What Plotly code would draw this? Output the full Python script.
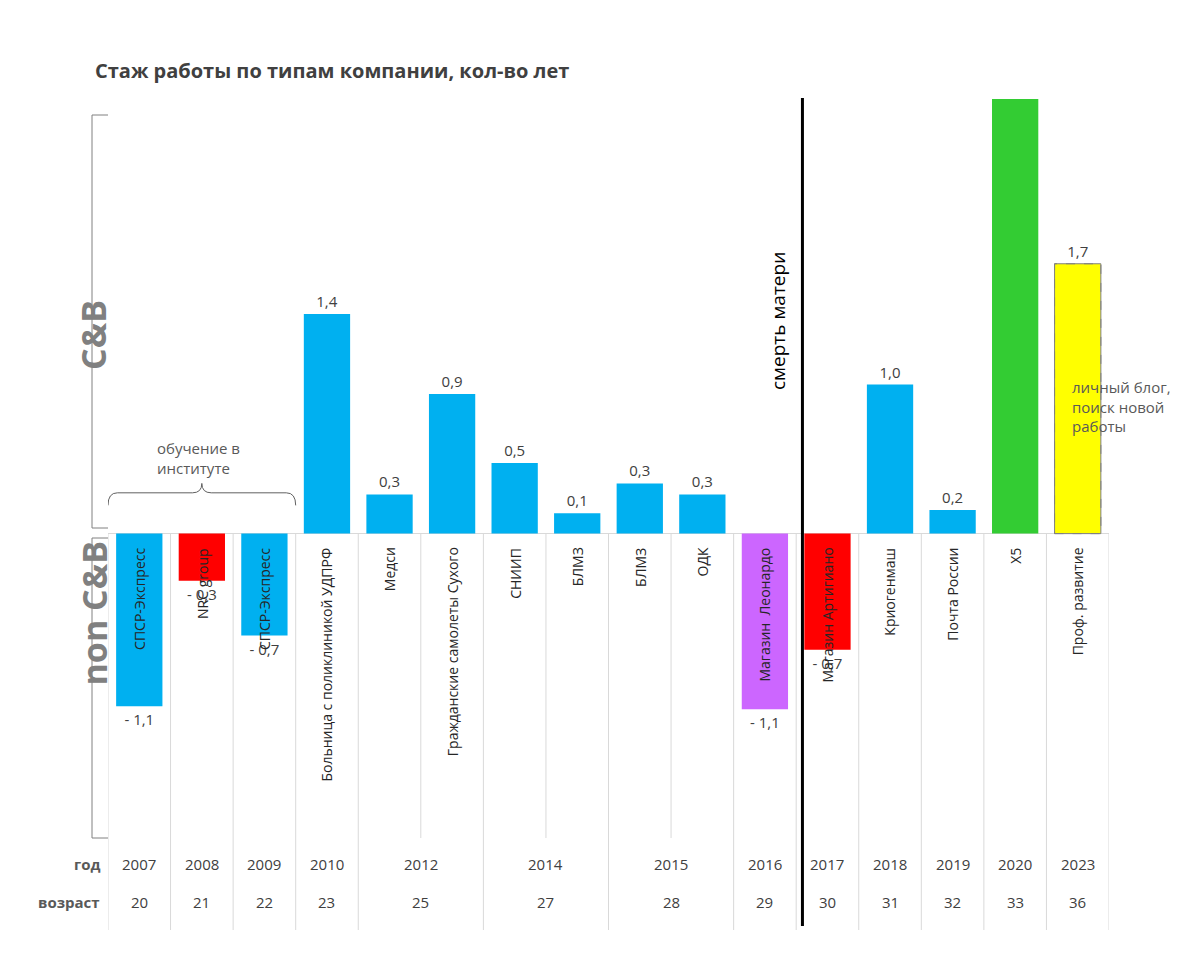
import plotly.graph_objects as go

names = ["СПСР-Экспресс", "NRC group", "СПСР-Экспресс", "Больница с поликлиникой УДПРФ", "Медси",
         "Гражданские самолеты Сухого", "СНИИП", "БЛМЗ", "БЛМЗ", "ОДК", "Магазин  Леонардо",
         "Магазин Артигиано", "Криогенмаш", "Почта России", "Х5", "Проф. развитие"]
values = [-1.1, -0.3, -0.65, 1.4, 0.25, 0.89, 0.45, 0.13, 0.32, 0.25, -1.12, -0.74, 0.95, 0.15, 2.8, 1.72]
labels = ["- 1,1", "- 0,3", "- 0,7", "1,4", "0,3", "0,9", "0,5", "0,1", "0,3", "0,3", "- 1,1", "- 0,7",
          "1,0", "0,2", "2,8", "1,7"]
colors = ["#00B0F0", "#FF0000", "#00B0F0", "#00B0F0", "#00B0F0", "#00B0F0", "#00B0F0", "#00B0F0",
          "#00B0F0", "#00B0F0", "#CC66FF", "#FF0000", "#00B0F0", "#00B0F0", "#33CC33", "#FFFF00"]
years = ["2007", "2008", "2009", "2010", "2012", "2014", "2015", "2016", "2017", "2018", "2019", "2020", "2023"]
ages = ["20", "21", "22", "23", "25", "27", "28", "29", "30", "31", "32", "33", "36"]
row_pos = [0, 1, 2, 3, 4.5, 6.5, 8.5, 10, 11, 12, 13, 14, 15]

x = list(range(len(values)))
line_colors = ["#808080" if c == "#FFFF00" else c for c in colors]

fig = go.Figure(go.Bar(
    x=x, y=values, width=0.74, marker=dict(color=colors, line=dict(color=line_colors, width=1)),
    text=labels, textposition="outside", cliponaxis=False,
    textfont=dict(size=15, color="#404040", family="Open Sans"),
))
fig.data[0].marker.line.width = [0]*15 + [1]

shapes = []
PAPER = lambda py: (830 - py) / 739.0
# column separators
for k in range(17):
    b = k - 0.5
    if b in (4.5, 6.5, 8.5):
        shapes.append(dict(type="line", xref="x", yref="y", x0=b, x1=b, y0=0, y1=-1.94,
                           line=dict(color="#D9D9D9", width=1)))
    else:
        shapes.append(dict(type="line", xref="x", yref="paper", x0=b, x1=b, y0=PAPER(525), y1=PAPER(922),
                           line=dict(color="#D9D9D9", width=1)))
# dashed border for yellow bar
shapes.append(dict(type="rect", xref="x", yref="y", x0=15 - 0.37, x1=15 + 0.37, y0=0, y1=values[15],
                   line=dict(color="#808080", width=1, dash="dash")))
# death line
shapes.append(dict(type="line", xref="x", yref="paper", x0=10.6, x1=10.6, y0=PAPER(918), y1=PAPER(90),
                   line=dict(color="black", width=3)))
# left brackets
for (a, b) in [(107, 520), (530, 830)]:
    shapes.append(dict(type="path", xref="paper", yref="paper",
                       path=f"M 0.0,{PAPER(a)} L -0.017,{PAPER(a)} L -0.017,{PAPER(b)} L 0.0,{PAPER(b)}",
                       line=dict(color="#808080", width=1)))
# curly brace for studies
shapes.append(dict(type="path", xref="x", yref="y",
                   path="M -0.5,0.18 Q -0.5,0.26 -0.35,0.26 L 0.85,0.26 Q 1,0.26 1,0.32 Q 1,0.26 1.15,0.26 "
                        "L 2.35,0.26 Q 2.5,0.26 2.5,0.18",
                   line=dict(color="#606060", width=1)))
# fix left bracket to pixel coords: paper x from px
for s in shapes:
    if s.get("xref") == "paper":
        s["path"] = s["path"].replace("-0.017", str((84 - 100) / 1001.0))

ann = []
for i, n in enumerate(names):
    ann.append(dict(x=i, y=0, xref="x", yref="y", text=n, textangle=-90, showarrow=False,
                    yanchor="top", yshift=-12, font=dict(size=14, color="#262626", family="Open Sans")))
for p, yv, ag in zip(row_pos, years, ages):
    ann.append(dict(x=p, y=PAPER(868), xref="x", yref="paper", text=yv, showarrow=False,
                    font=dict(size=15, color="#404040", family="Open Sans")))
    ann.append(dict(x=p, y=PAPER(906), xref="x", yref="paper", text=ag, showarrow=False,
                    font=dict(size=15, color="#404040", family="Open Sans")))
for t, py in [("год", 868), ("возраст", 906)]:
    ann.append(dict(x=(94 - 100) / 1001.0, y=PAPER(py), xref="paper", yref="paper", text=f"<b>{t}</b>",
                    xanchor="right", showarrow=False, font=dict(size=15, color="#595959", family="Open Sans")))
ann += [
    dict(x=(60 - 100) / 1001.0, y=PAPER(290), xref="paper", yref="paper", text="<b>C&amp;B</b>", textangle=-90,
         showarrow=False, font=dict(size=34, color="#808080", family="Open Sans")),
    dict(x=(60 - 100) / 1001.0, y=PAPER(680), xref="paper", yref="paper", text="<b>non C&amp;B</b>", textangle=-90,
         showarrow=False, font=dict(size=34, color="#808080", family="Open Sans")),
    dict(x=(785 - 100) / 1001.0, y=PAPER(242), xref="paper", yref="paper", text="смерть матери", textangle=-90,
         showarrow=False, font=dict(size=19, color="black", family="Open Sans")),
    dict(x=(147 - 100) / 1001.0, y=PAPER(450), xref="paper", yref="paper", xanchor="left", align="left",
         text="обучение в<br>институте", showarrow=False, font=dict(size=15, color="#595959", family="Open Sans")),
    dict(x=(1062 - 100) / 1001.0, y=PAPER(398), xref="paper", yref="paper", xanchor="left", align="left",
         text="личный блог,<br>поиск новой<br>работы", showarrow=False,
         font=dict(size=15, color="#595959", family="Open Sans")),
    dict(x=(85 - 100) / 1001.0, y=PAPER(47), xref="paper", yref="paper", xanchor="left",
         text="<b>Стаж работы по типам компании, кол-во лет</b>", showarrow=False,
         font=dict(size=20, color="#404040", family="Open Sans")),
]

fig.update_layout(
    width=1199, height=957, margin=dict(l=100, r=98, t=91, b=127),
    plot_bgcolor="white", paper_bgcolor="white", showlegend=False,
    xaxis=dict(range=[-0.5, 15.5], showticklabels=False, showgrid=False, zeroline=False),
    yaxis=dict(range=[-1.94, 2.77], showticklabels=False, showgrid=False, zeroline=True,
               zerolinecolor="#D9D9D9", zerolinewidth=1),
    shapes=shapes, annotations=ann, bargap=0.26,
)
fig.write_html("out.html")
